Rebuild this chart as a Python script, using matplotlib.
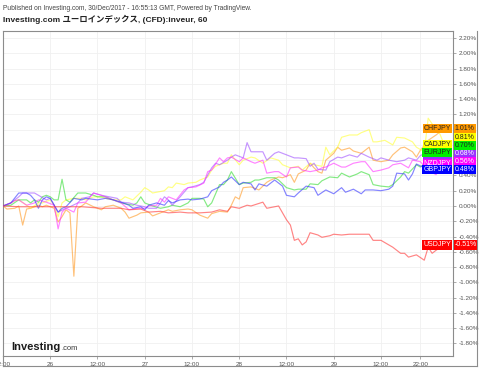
import numpy as np
import matplotlib
matplotlib.use("Agg")
import matplotlib.pyplot as plt
from matplotlib.lines import Line2D

# ---------------- data (hours since 25/Dec/2017 00:00 GMT, % change) ----------------
chf_h = [12,13,15,16,17,18,19,21,22,23,25,26,27,28,29,30,31,32,33,35,37,38,40,42,43,44,46,47,49,50,52,54,55,57,59,60,62,64,65,67,69,70,71,72,73,75,77,79,80,82,83,85,86,87,89,90,91,92,93,94,96,97,98,100,101,103,105,106,108,110,111,113,114,116,117,118,120,122,124]
chf_v = [0,-0.04,-0.03,0,-0.25,-0.04,-0.03,0.01,-0.01,0.01,-0.03,-0.21,-0.14,-0.05,-0.09,-0.92,-0.03,0,0.04,-0.01,-0.05,-0.01,0.01,-0.03,-0.08,-0.16,-0.12,-0.09,-0.08,-0.13,-0.09,-0.05,-0.07,-0.05,-0.04,-0.05,-0.12,-0.16,-0.10,-0.07,-0.08,0.01,0.12,0.09,0.24,0.25,0.21,0.31,0.34,0.38,0.37,0.41,0.31,0.42,0.47,0.56,0.50,0.45,0.43,0.60,0.69,0.77,0.73,0.76,0.72,0.69,0.77,0.60,0.58,0.60,0.67,0.76,0.77,0.71,0.64,0.73,0.86,0.93,1.01]

cad_h = [12,14,15,16,18,19,21,22,24,25,26,27,28,30,32,33,35,37,38,40,42,43,45,47,48,49,50,51,53,54,55,56,58,59,61,62,64,65,66,68,69,70,72,73,75,76,78,80,82,83,85,87,88,90,91,93,94,95,97,98,100,102,103,105,106,107,109,111,112,114,116,117,119,120,122,123,124]
cad_v = [0,0.04,0.07,0.08,0.01,-0.03,0.04,0.04,0.08,0.01,-0.14,0.04,0.08,0.10,0.10,0.08,0.12,0.12,0.10,0.08,0.08,0.12,0.08,0.18,0.24,0.21,0.17,0.18,0.20,0.25,0.24,0.30,0.28,0.30,0.31,0.34,0.38,0.47,0.52,0.56,0.56,0.67,0.54,0.60,0.64,0.63,0.56,0.63,0.60,0.54,0.50,0.52,0.47,0.56,0.54,0.52,0.77,0.67,0.77,0.90,0.93,0.93,0.96,1.00,0.84,0.84,0.86,0.80,0.90,0.89,0.84,0.77,0.71,1.15,1.00,0.94,0.81]

eur_h = [12,14,16,18,19,20,21,22,23,24,25,26,27,28,29,31,33,35,36,38,40,42,45,46,47,48,50,52,54,55,57,59,60,62,63,64,65,67,68,69,70,72,73,75,76,77,79,81,82,84,86,87,89,90,92,93,95,97,98,100,102,103,105,106,108,110,111,113,114,115,117,118,120,122,124]
eur_v = [0,0.01,0.08,0.08,0.04,0.08,0.05,0.12,0.14,0.12,0.08,0.08,0.35,0.08,0.05,0.17,0.17,0.14,0.12,0.12,0.08,0.04,0.01,0.04,0.12,0.04,0,-0.03,-0.01,0.01,-0.01,0.04,0.10,0.10,0.09,-0.01,0.04,0.28,0.28,0.34,0.45,0.28,0.30,0.31,0.34,0.34,0.37,0.37,0.34,0.24,0.21,0.22,0.22,0.29,0.28,0.33,0.38,0.37,0.43,0.38,0.42,0.45,0.41,0.28,0.26,0.25,0.28,0.38,0.45,0.43,0.54,0.51,0.60,0.67,0.70]

aud_h = [12,14,16,17,19,20,21,23,24,25,26,28,29,31,32,34,35,37,39,41,42,44,46,48,49,51,52,53,54,55,57,59,60,62,63,65,66,67,69,70,71,73,74,75,78,79,81,82,84,86,87,89,90,91,92,94,95,97,98,100,102,103,105,107,108,110,112,114,115,117,118,120,122,124]
aud_v = [0,0.04,0.12,0.17,0.17,0.17,0.14,0.08,0.10,0.01,-0.08,-0.03,-0.01,0.04,0.10,0.12,0.17,0.14,0.12,0.10,0.05,0.04,0.01,-0.01,-0.03,-0.03,0.04,0.12,0.08,0.01,0.12,0.24,0.25,0.28,0.31,0.50,0.56,0.54,0.60,0.64,0.67,0.63,0.83,0.71,0.71,0.60,0.69,0.71,0.67,0.63,0.63,0.62,0.52,0.56,0.48,0.47,0.58,0.64,0.63,0.67,0.64,0.69,0.64,0.60,0.63,0.60,0.58,0.60,0.63,0.60,0.66,0.71,0.66,0.68]

nzd_h = [12,14,15,16,18,20,21,23,25,26,27,28,30,31,33,35,37,38,40,42,44,46,48,49,51,52,53,54,56,58,59,61,63,64,65,67,68,69,70,72,73,75,76,78,79,81,82,84,85,87,88,90,92,93,94,96,98,99,101,103,104,106,108,110,111,113,115,116,118,120,122,123,125]
nzd_v = [0,0.04,0.07,0.08,0.01,0.04,0.08,0.05,0.01,-0.30,-0.08,-0.03,-0.08,0.04,0.05,0.17,0.14,0.12,0.08,0.04,-0.05,-0.03,-0.03,0,0.01,0.10,0.05,0.12,0.08,0.21,0.24,0.25,0.30,0.45,0.47,0.63,0.58,0.63,0.64,0.58,0.63,0.58,0.56,0.60,0.43,0.45,0.45,0.38,0.50,0.51,0.47,0.45,0.47,0.50,0.51,0.56,0.51,0.51,0.56,0.58,0.58,0.45,0.47,0.50,0.54,0.56,0.50,0.60,0.58,0.47,0.41,0.50,0.56]

gbp_h = [12,14,16,18,19,20,21,22,23,24,25,26,27,28,30,32,33,36,38,40,42,44,45,47,48,49,51,53,54,55,57,59,60,62,64,65,67,68,69,70,72,73,75,76,77,79,81,83,84,86,87,89,91,92,94,96,98,99,101,103,104,106,108,110,111,112,114,115,116,117,119,120,122,124]
gbp_v = [0,0.04,0.17,0.17,0.14,0.08,-0.03,0.08,0.12,0.10,0.01,-0.08,-0.03,-0.01,0.10,0.08,0.10,0.08,0.10,0.08,0.05,0.01,-0.03,-0.01,-0.05,0.01,0.04,0.01,0.07,0.04,0.08,0.09,0.08,0.09,0.12,0.20,0.25,0.31,0.34,0.38,0.28,0.31,0.29,0.21,0.29,0.26,0.34,0.26,0.14,0.12,0.17,0.26,0.24,0.14,0.21,0.16,0.24,0.18,0.22,0.16,0.21,0.21,0.20,0.22,0.26,0.43,0.42,0.34,0.42,0.55,0.50,0.50,0.45,0.48]

usd_h = [12,16,21,27,32,37,42,44,47,49,52,54,57,59,62,65,67,69,70,72,74,75,78,79,81,82,83,84,85,86,87,88,89,90,92,93,95,96,98,100,103,105,106,108,110,111,113,114,115,117,119,120,121,122,124]
usd_v = [0,-0.01,-0.01,-0.01,-0.01,-0.03,-0.03,-0.05,-0.04,-0.08,-0.07,-0.09,-0.08,-0.09,-0.09,-0.08,-0.05,-0.07,-0.01,-0.03,0.01,0,0.05,-0.03,-0.01,0,-0.09,-0.18,-0.25,-0.45,-0.43,-0.51,-0.47,-0.35,-0.38,-0.41,-0.39,-0.37,-0.38,-0.37,-0.37,-0.37,-0.45,-0.45,-0.51,-0.54,-0.62,-0.62,-0.67,-0.64,-0.71,-0.54,-0.62,-0.58,-0.51]

names = ["CHFJPY", "CADJPY", "EURJPY", "AUDJPY", "NZDJPY", "GBPJPY", "USDJPY"]
last_values = [1.01, 0.81, 0.70, 0.68, 0.56, 0.48, -0.51]
series_h = [chf_h, cad_h, eur_h, aud_h, nzd_h, gbp_h, usd_h]
series_v = [chf_v, cad_v, eur_v, aud_v, nzd_v, gbp_v, usd_v]
colors = ["#ff9900", "#ffff00", "#00ee00", "#9933ff", "#ff00ff", "#0000ff", "#ff0000"]
line_colors = ["#ff9922", "#ffff33", "#33dd33", "#a050ff", "#ff33ff", "#3333ff", "#ff3333"]
text_colors = ["#222222", "#222222", "#222222", "#ffffff", "#ffffff", "#ffffff", "#ffffff"]

xtick_hours = [12, 24, 36, 48, 60, 72, 84, 96, 108, 118]
xtick_labels = ["12:00", "26", "12:00", "27", "12:00", "28", "12:00", "29", "12:00", "22:00"]
ytick_values = np.round(np.arange(-1.8, 2.21, 0.2), 2)

# ---------------- figure ----------------
fig = plt.figure(figsize=(4.8, 3.69), dpi=100)
ax = fig.add_axes([3/480, 1-356/369, 450/480, 325/369])
ax.set_facecolor("white")

for i in range(7):
    ax.plot(series_h[i], series_v[i], color=line_colors[i], lw=0.85, alpha=0.6, zorder=3)

ax.set_xlim(12.07, 126.3)
ax.set_ylim(-1.965, 2.292)

ax.yaxis.tick_right()
ax.set_yticks(ytick_values)
ax.set_yticklabels([("%.2f%%" % (v if abs(v) > 1e-9 else 0.0)) for v in ytick_values])
ax.set_xticks(xtick_hours)
ax.set_xticklabels(xtick_labels)
ax.tick_params(axis="y", length=2.5, width=0.5, color="#888888", labelsize=4.6,
               labelcolor="#555555", pad=1.5)
ax.tick_params(axis="x", length=2.5, width=0.5, color="#888888", labelsize=4.6,
               labelcolor="#555555", pad=1.5)
for lab in ax.get_xticklabels() + ax.get_yticklabels():
    lab.set_family("Liberation Sans")
ax.grid(True, color="#f0f0f0", lw=0.6, zorder=0)
for s in ax.spines.values():
    s.set_color("#8c8c8c")
    s.set_linewidth(0.8)

# outer frame below/right of axis labels
fr = dict(transform=fig.transFigure, color="#8c8c8c", lw=0.8)
fig.add_artist(Line2D([3/480, 477/480], [1-366/369, 1-366/369], **fr))
fig.add_artist(Line2D([477/480, 477/480], [1-366/369, 1-31/369], **fr))
fig.add_artist(Line2D([3/480, 3/480], [1-366/369, 1-356/369], **fr))

# ---------------- right-hand labels ----------------
spacing = 0.105
pos_order = sorted(range(6), key=lambda k: last_values[k])
stack_y = {}
prev = None
for k in pos_order:
    y = last_values[k] if prev is None else max(last_values[k], prev + spacing)
    stack_y[k] = y
    prev = y
stack_y[6] = last_values[6]

box_kw = dict(boxstyle="square,pad=0.16", ec="none")
draw_seq = [3, 0, 1, 2, 4, 5, 6]
for k in draw_seq:
    ax.annotate(names[k], xy=(1, last_values[k]), xycoords=("axes fraction", "data"),
                xytext=(-1.2, 0), textcoords="offset points", ha="right", va="center",
                fontsize=5.0, family="Liberation Sans", color=text_colors[k],
                bbox=dict(fc=colors[k], **box_kw), annotation_clip=False, zorder=6)
for k in draw_seq:
    ax.annotate("%.2f%%" % last_values[k], xy=(1, stack_y[k]), xycoords=("axes fraction", "data"),
                xytext=(1.2, 0), textcoords="offset points", ha="left", va="center",
                fontsize=5.0, family="Liberation Sans", color=text_colors[k],
                bbox=dict(fc=colors[k], **box_kw), annotation_clip=False, zorder=6)

# ---------------- header ----------------
fig.text(3/480, 1-9.5/369,
         "Published on Investing.com, 30/Dec/2017 - 16:55:13 GMT, Powered by TradingView.",
         fontsize=4.8, color="#444444", family=["Liberation Sans", "DejaVu Sans"], va="baseline")
fig.text(3/480, 1-21.5/369, "Investing.com ユーロインデックス, (CFD):inveur, 60",
         fontsize=6.05, color="#222222", weight="bold",
         family=["Liberation Sans", "Noto Sans CJK JP"], va="baseline")

# ---------------- logo ----------------
t = fig.text(11.5/480, 1-350.5/369, "Investing", fontsize=8, weight="bold",
             family="Liberation Sans", color="#1a1a1a", va="baseline")
fig.canvas.draw()
bb = t.get_window_extent()
fig.text((bb.x1 + 0.3)/480, 1-350.5/369, ".com", fontsize=5.4, family="Liberation Sans",
         color="#333333", va="baseline")

fig.savefig("out.png", dpi=100, facecolor="white")
